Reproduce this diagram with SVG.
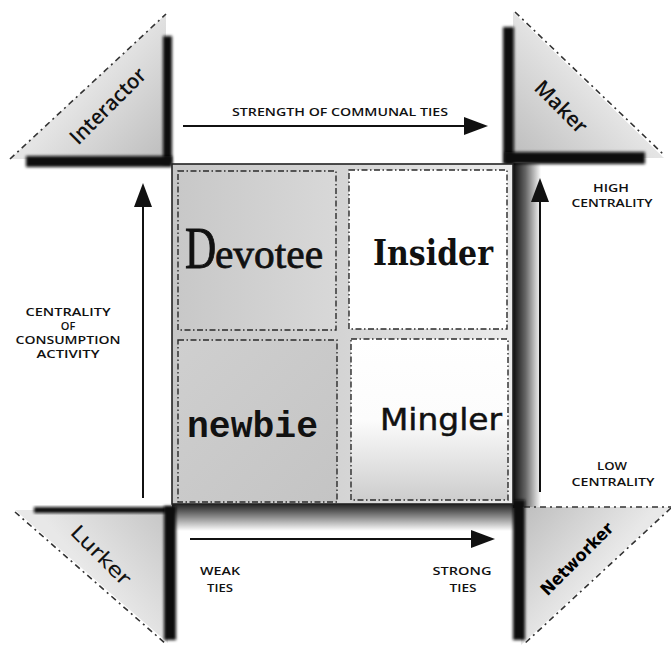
<svg xmlns="http://www.w3.org/2000/svg" width="671" height="646" viewBox="0 0 671 646">
<defs>
  <style>
    .lbl{font-family:"Open Sans","Liberation Sans",sans-serif;font-size:11.5px;font-weight:600;fill:#111;text-anchor:middle}
    .lbl2{font-family:"Open Sans","Liberation Sans",sans-serif;font-size:11px;font-weight:600;fill:#111;text-anchor:middle}
    .hyp{stroke:#333;stroke-width:1.6;fill:none;stroke-dasharray:6 4 2 4}
    .quad{stroke:#2a2a2a;stroke-width:1.4;stroke-dasharray:6 2.5 1.5 2.5}
    .bar{fill:#0a0a0a;filter:url(#blur)}
    .arr{stroke:#111;stroke-width:2;fill:none;marker-end:url(#ah)}
    .corner{font-family:"Open Sans","Liberation Sans",sans-serif;font-size:21px;font-weight:600;fill:#111;text-anchor:middle}
  </style>
  <filter id="blur" x="-30%" y="-30%" width="160%" height="160%">
    <feGaussianBlur stdDeviation="1.6"/>
  </filter>
  <marker id="ah" viewBox="0 0 24 18" refX="14" refY="9" markerWidth="24" markerHeight="18" markerUnits="userSpaceOnUse" orient="auto">
    <path d="M0,0 L24,9 L0,18 z" fill="#111"/>
  </marker>
  <linearGradient id="gI" gradientUnits="userSpaceOnUse" x1="166" y1="159" x2="88" y2="86">
    <stop offset="0" stop-color="#bdbdbd"/><stop offset="1" stop-color="#e4e4e4"/>
  </linearGradient>
  <linearGradient id="gM" gradientUnits="userSpaceOnUse" x1="513" y1="158" x2="588" y2="85">
    <stop offset="0" stop-color="#bdbdbd"/><stop offset="1" stop-color="#e4e4e4"/>
  </linearGradient>
  <linearGradient id="gL" gradientUnits="userSpaceOnUse" x1="172" y1="510" x2="92" y2="577">
    <stop offset="0" stop-color="#c4c4c4"/><stop offset="1" stop-color="#e8e8e8"/>
  </linearGradient>
  <linearGradient id="gN" gradientUnits="userSpaceOnUse" x1="519" y1="507" x2="596" y2="576">
    <stop offset="0" stop-color="#bdbdbd"/><stop offset="1" stop-color="#e8e8e8"/>
  </linearGradient>
  <linearGradient id="shR" x1="0" y1="0" x2="1" y2="0">
    <stop offset="0" stop-color="#000" stop-opacity="0.95"/><stop offset="0.45" stop-color="#000" stop-opacity="0.6"/><stop offset="1" stop-color="#000" stop-opacity="0"/>
  </linearGradient>
  <linearGradient id="shB" x1="0" y1="0" x2="0" y2="1">
    <stop offset="0" stop-color="#000" stop-opacity="0.9"/><stop offset="0.45" stop-color="#000" stop-opacity="0.5"/><stop offset="1" stop-color="#000" stop-opacity="0"/>
  </linearGradient>
  <linearGradient id="sq" x1="0" y1="0" x2="1" y2="0">
    <stop offset="0" stop-color="#c6c6c6"/><stop offset="0.5" stop-color="#d4d4d4"/><stop offset="1" stop-color="#ececec"/>
  </linearGradient>
  <linearGradient id="qTL" x1="0" y1="0" x2="1" y2="0">
    <stop offset="0" stop-color="#c8c8c8"/><stop offset="1" stop-color="#d8d8d8"/>
  </linearGradient>
  <linearGradient id="qBL" x1="0" y1="0" x2="1" y2="1">
    <stop offset="0" stop-color="#cfcfcf"/><stop offset="1" stop-color="#c4c4c4"/>
  </linearGradient>
  <linearGradient id="qBR" x1="0" y1="0" x2="0" y2="1">
    <stop offset="0" stop-color="#ffffff"/><stop offset="0.5" stop-color="#fcfcfc"/><stop offset="1" stop-color="#cdcdcd"/>
  </linearGradient>
</defs>
<rect width="671" height="646" fill="#fff"/>

<g id="shadows">
  <rect x="513" y="163" width="28" height="345" fill="url(#shR)"/>
  <rect x="172" y="503" width="345" height="28" fill="url(#shB)"/>
</g>

<g id="interactor">
  <polygon points="10,159 166,14 166,159" fill="url(#gI)"/>
  <line x1="10" y1="159" x2="166" y2="14" class="hyp"/>
  <rect class="bar" x="163" y="36" width="9" height="128"/>
  <rect class="bar" x="26" y="156" width="146" height="11"/>
  <text class="corner" transform="translate(113,111) rotate(-45)" textLength="98" lengthAdjust="spacingAndGlyphs">Interactor</text>
</g>

<g id="maker">
  <polygon points="513,12 513,158 664,158" fill="url(#gM)"/>
  <line x1="515" y1="12" x2="664" y2="155" class="hyp"/>
  <rect class="bar" x="503" y="27" width="11" height="137"/>
  <rect class="bar" x="505" y="152" width="140" height="12"/>
  <text class="corner" transform="translate(556,112) rotate(45)" font-size="22">Maker</text>
</g>

<g id="lurker">
  <polygon points="15,510 172,510 168,643" fill="url(#gL)"/>
  <line x1="15" y1="512" x2="166" y2="644" class="hyp"/>
  <rect class="bar" x="34" y="507" width="140" height="6"/>
  <rect class="bar" x="164" y="506" width="12" height="134"/>
  <text transform="translate(96,560) rotate(45)" font-family="'DejaVu Sans',sans-serif" font-size="20" fill="#111" text-anchor="middle" textLength="76" lengthAdjust="spacingAndGlyphs">Lurker</text>
</g>

<g id="networker">
  <polygon points="519,507 671,507 521,645" fill="url(#gN)"/>
  <line x1="671" y1="508" x2="523" y2="645" class="hyp"/>
  <line x1="524" y1="507" x2="671" y2="507" class="hyp" stroke-width="2"/>
  <rect class="bar" x="513" y="500" width="12" height="140"/>
  <text transform="translate(581,563) rotate(-45)" font-family="'DejaVu Sans',sans-serif" font-weight="bold" font-size="17" fill="#000" text-anchor="middle" textLength="95" lengthAdjust="spacingAndGlyphs">Networker</text>
</g>

<g id="square">
  <rect x="172" y="164" width="341" height="340" fill="url(#sq)" stroke="#222" stroke-width="1.6"/>
</g>

<g id="devotee">
  <rect class="quad" x="178" y="171" width="158" height="159" fill="url(#qTL)"/>
  <text transform="translate(185,268) scale(0.72,1)" font-family="'Liberation Serif',serif" font-size="60" fill="#111" stroke="#111" stroke-width="1">D</text>
  <text x="215" y="268" font-family="'Liberation Serif',serif" font-size="41" fill="#111" stroke="#111" stroke-width="0.8" textLength="108" lengthAdjust="spacingAndGlyphs">evotee</text>
</g>

<g id="insider">
  <rect class="quad" x="349" y="170" width="158" height="159" fill="#fff"/>
  <text x="373" y="265" font-family="'DejaVu Serif','Liberation Serif',serif" font-weight="bold" font-size="36" fill="#111" textLength="120" lengthAdjust="spacingAndGlyphs">Insider</text>
</g>

<g id="newbie">
  <rect class="quad" x="178" y="340" width="159" height="162" fill="url(#qBL)"/>
  <text x="187" y="437" font-family="'Liberation Mono',monospace" font-weight="bold" font-size="36" fill="#111" textLength="131" lengthAdjust="spacingAndGlyphs">newbie</text>
</g>

<g id="mingler">
  <rect class="quad" x="351" y="339" width="157" height="161" fill="url(#qBR)"/>
  <text x="380" y="430" font-family="'DejaVu Sans',sans-serif" font-size="30" fill="#111" stroke="#111" stroke-width="0.5" textLength="122" lengthAdjust="spacingAndGlyphs">Mingler</text>
</g>

<g id="connectors">
  <line class="arr" x1="183" y1="126" x2="478" y2="126"/>
  <line class="arr" x1="143" y1="498" x2="143" y2="193"/>
  <line class="arr" x1="540" y1="492" x2="540" y2="188"/>
  <line class="arr" x1="190" y1="539" x2="485" y2="539"/>
</g>

<g id="labels">
  <text class="lbl" x="340" y="116" textLength="216" lengthAdjust="spacingAndGlyphs">STRENGTH OF COMMUNAL TIES</text>
  <text class="lbl2" x="68" y="316" textLength="85" lengthAdjust="spacingAndGlyphs">CENTRALITY</text>
  <text class="lbl2" x="68" y="330">OF</text>
  <text class="lbl2" x="68" y="344" textLength="105" lengthAdjust="spacingAndGlyphs">CONSUMPTION</text>
  <text class="lbl2" x="68" y="358" textLength="63" lengthAdjust="spacingAndGlyphs">ACTIVITY</text>
  <text class="lbl" x="611" y="192" textLength="36" lengthAdjust="spacingAndGlyphs">HIGH</text>
  <text class="lbl" x="612" y="207" textLength="81" lengthAdjust="spacingAndGlyphs">CENTRALITY</text>
  <text class="lbl" x="612" y="470" textLength="30" lengthAdjust="spacingAndGlyphs">LOW</text>
  <text class="lbl" x="613" y="486" textLength="83" lengthAdjust="spacingAndGlyphs">CENTRALITY</text>
  <text class="lbl" x="220" y="575" textLength="40" lengthAdjust="spacingAndGlyphs">WEAK</text>
  <text class="lbl" x="220" y="592" textLength="26" lengthAdjust="spacingAndGlyphs">TIES</text>
  <text class="lbl" x="462" y="575" textLength="59" lengthAdjust="spacingAndGlyphs">STRONG</text>
  <text class="lbl" x="463" y="592" textLength="27" lengthAdjust="spacingAndGlyphs">TIES</text>
</g>
</svg>
